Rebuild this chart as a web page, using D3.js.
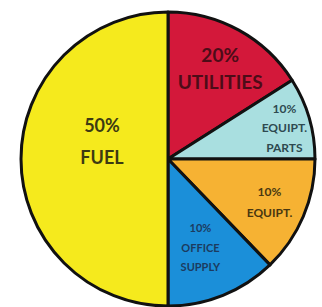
<!DOCTYPE html>
<html lang="en">
<head>
  <meta charset="utf-8">
  <title>Expense Pie</title>
  <script src="https://d3js.org/d3.v7.min.js"></script>
  <style>
    html, body { margin: 0; padding: 0; background: #fff; }
    svg { display: block; }
    .slice-label { font-family: Lato, "DejaVu Sans Condensed", sans-serif; font-weight: 700; text-anchor: middle; }
  </style>
</head>
<body>
<script>
  // slices in drawing order, clockwise from 12 o'clock
  const categories = ["UTILITIES", "EQUIPT. PARTS", "EQUIPT.", "OFFICE SUPPLY", "FUEL"];
  const pctLabels = ["20%", "10%", "10%", "10%", "50%"];
  // share of the circle each slice takes as drawn in the picture
  const drawnShare = [16, 9, 12.8, 12.2, 50];
  const nameLines = [["UTILITIES"], ["EQUIPT.", "PARTS"], ["EQUIPT."], ["OFFICE", "SUPPLY"], ["FUEL"]];
  const colors = ["#d3183a", "#a9dfe0", "#f6b233", "#1b8fd9", "#f5ea1d"];
  const textColors = ["#4d0c18", "#2e4a50", "#4a3810", "#1c3b60", "#3d3a12"];

  const width = 322, height = 307;
  const cx = 168, cy = 159, r = 147;

  const svg = d3.select("body").append("svg")
    .attr("width", width)
    .attr("height", height);

  const g = svg.append("g").attr("transform", `translate(${cx},${cy})`);

  const data = categories.map((c, i) => ({ name: c, value: drawnShare[i], i }));

  const pie = d3.pie().sort(null).value(d => d.value);
  const arc = d3.arc().innerRadius(0).outerRadius(r);
  const arcs = pie(data);

  g.selectAll("path.slice")
    .data(arcs)
    .enter().append("path")
    .attr("class", "slice")
    .attr("d", arc)
    .attr("fill", d => colors[d.data.i])
    .attr("stroke", "#111")
    .attr("stroke-width", 3)
    .attr("stroke-linejoin", "round");

  // label placement: angle (deg, clockwise from top), fraction of radius, font size, line gap
  const labelAngle = [30, 75, 113, 160, 285];
  const labelRadius = [0.71, 0.82, 0.75, 0.645, 0.465];
  const fontSizes = [19, 12, 12, 11, 18];
  const lineGap = [27, 19.5, 21, 19.5, 32];

  arcs.forEach(d => {
    const i = d.data.i;
    const a = labelAngle[i] * Math.PI / 180;
    const rr = r * labelRadius[i];
    const x = Math.sin(a) * rr;
    const y = -Math.cos(a) * rr;
    const lines = [pctLabels[i]].concat(nameLines[i]);
    const t = g.append("text")
      .attr("class", "slice-label")
      .attr("fill", textColors[i])
      .attr("font-size", fontSizes[i]);
    lines.forEach((ln, k) => {
      t.append("tspan")
        .attr("x", x)
        .attr("y", y + (k - (lines.length - 1) / 2) * lineGap[i])
        .attr("dy", "0.35em")
        .text(ln);
    });
  });
</script>
</body>
</html>
